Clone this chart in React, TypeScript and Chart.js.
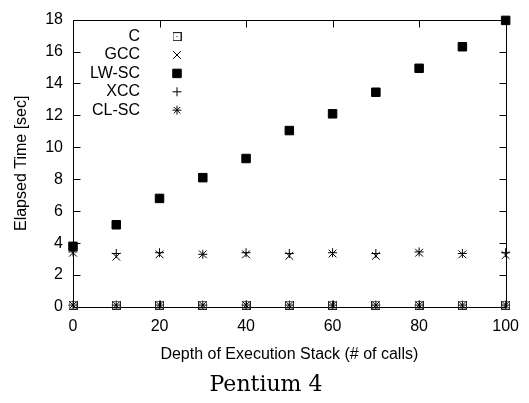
import { useEffect, useRef } from 'react';
import { Chart, registerables } from 'chart.js';
import { drawPoint } from 'chart.js/helpers';

Chart.register(...registerables);

const depths = [0, 10, 20, 30, 40, 50, 60, 70, 80, 90, 100];
const seriesNames = ['C', 'GCC', 'LW-SC', 'XCC', 'CL-SC'];
const cTimes = [0.12, 0.12, 0.12, 0.12, 0.12, 0.12, 0.12, 0.12, 0.12, 0.12, 0.12];
const gccTimes = [3.4, 3.15, 3.3, 3.3, 3.3, 3.2, 3.35, 3.2, 3.4, 3.3, 3.25];
const lwscTimes = [3.8, 5.15, 6.8, 8.1, 9.3, 11.05, 12.1, 13.45, 14.95, 16.3, 17.95];
const xccTimes = [3.45, 3.35, 3.4, 3.3, 3.4, 3.35, 3.4, 3.35, 3.45, 3.35, 3.4];
const clscTimes = [0.12, 0.12, 0.12, 0.12, 0.12, 0.12, 0.12, 0.12, 0.12, 0.12, 0.12];
const xTickValues = [0, 20, 40, 60, 80, 100];
const yTickValues = [0, 2, 4, 6, 8, 10, 12, 14, 16, 18];
const xTitle = 'Depth of Execution Stack (# of calls)';
const yTitle = 'Elapsed Time [sec]';
const caption = 'Pentium 4';

const SANS = '"Liberation Sans", Arial, sans-serif';

function boxDot(): HTMLCanvasElement {
  const c = document.createElement('canvas');
  c.width = 9;
  c.height = 9;
  const g = c.getContext('2d')!;
  g.strokeStyle = '#222';
  g.lineWidth = 1;
  g.strokeRect(0.5, 0.5, 8, 8);
  g.fillStyle = '#000';
  g.fillRect(4, 4, 1, 1);
  return c;
}

const framePlugin = {
  id: 'frame',
  beforeDatasetsDraw(chart: any) {
    const { ctx, chartArea, scales } = chart;
    const { left, right, top, bottom } = chartArea;
    const L = Math.round(left) + 0.5;
    const R = Math.round(right) + 0.5;
    const T = Math.round(top) + 0.5;
    const B = Math.round(bottom) + 0.5;
    ctx.save();
    ctx.strokeStyle = '#000';
    ctx.lineWidth = 1;
    ctx.beginPath();
    ctx.rect(L, T, R - L, B - T);
    const tl = 7;
    xTickValues.forEach((v) => {
      const px = Math.round(scales.x.getPixelForValue(v)) + 0.5;
      ctx.moveTo(px, B);
      ctx.lineTo(px, B - tl);
      ctx.moveTo(px, T);
      ctx.lineTo(px, T + tl);
    });
    yTickValues.forEach((v) => {
      const py = Math.round(scales.y.getPixelForValue(v)) + 0.5;
      ctx.moveTo(L, py);
      ctx.lineTo(L + tl, py);
      ctx.moveTo(R, py);
      ctx.lineTo(R - tl, py);
    });
    ctx.stroke();
    ctx.restore();
  },
};

const keyPlugin = {
  id: 'key',
  afterDatasetsDraw(chart: any) {
    const { ctx, chartArea } = chart;
    ctx.save();
    ctx.font = `16px ${SANS}`;
    ctx.textAlign = 'right';
    ctx.textBaseline = 'middle';
    chart.data.datasets.forEach((ds: any, i: number) => {
      const y = chartArea.top + 17 + i * 18.4;
      ctx.fillStyle = '#000';
      ctx.fillText(ds.label, chartArea.left + 67, y);
      ctx.strokeStyle = '#000';
      ctx.lineWidth = 1;
      drawPoint(ctx, { pointStyle: ds.pointStyle, radius: ds.pointRadius, rotation: 0, borderWidth: 1 } as any, chartArea.left + 104, y);
    });
    ctx.restore();
  },
};

const captionPlugin = {
  id: 'caption',
  afterDraw(chart: any) {
    const { ctx } = chart;
    ctx.save();
    ctx.font = '22px "DejaVu Serif", "Liberation Serif", serif';
    ctx.fillStyle = '#000';
    ctx.textAlign = 'center';
    ctx.textBaseline = 'middle';
    ctx.fillText(caption, 266, 385);
    ctx.restore();
  },
};

export default function App() {
  const ref = useRef<HTMLCanvasElement>(null);
  useEffect(() => {
    if (!ref.current) return;
    const box = boxDot();
    const toPts = (arr: number[]) => depths.map((d, i) => ({ x: d, y: arr[i] }));
    const base = { showLine: false, borderColor: '#000', backgroundColor: '#000', borderWidth: 1, clip: false as any };
    const chart = new Chart(ref.current, {
      type: 'scatter',
      data: {
        datasets: [
          { ...base, label: seriesNames[0], data: toPts(cTimes), pointStyle: box as any, pointRadius: 4.5 },
          { ...base, label: seriesNames[1], data: toPts(gccTimes), pointStyle: 'crossRot', pointRadius: 5.5 },
          { ...base, label: seriesNames[2], data: toPts(lwscTimes), pointStyle: 'rect', pointRadius: 6 },
          { ...base, label: seriesNames[3], data: toPts(xccTimes), pointStyle: 'cross', pointRadius: 4.5 },
          { ...base, label: seriesNames[4], data: toPts(clscTimes), pointStyle: 'star', pointRadius: 4.5 },
        ],
      },
      options: {
        animation: false,
        responsive: false,
        maintainAspectRatio: false,
        devicePixelRatio: 1,
        layout: { padding: { left: 0, right: 22, top: 10, bottom: 0 } },
        plugins: {
          legend: { display: false },
          tooltip: { enabled: false },
          title: { display: false },
        },
        scales: {
          x: {
            type: 'linear',
            min: 0,
            max: 100,
            afterBuildTicks: (s: any) => { s.ticks = xTickValues.map((v) => ({ value: v })); },
            afterFit: (s: any) => { s.height = 96; },
            grid: { display: false, drawTicks: false },
            border: { display: false },
            ticks: { color: '#000', padding: 10, font: { family: SANS, size: 16 }, maxRotation: 0 },
            title: { display: true, text: xTitle, color: '#000', font: { family: SANS, size: 16 }, padding: { top: 0, bottom: 39 } },
          },
          y: {
            type: 'linear',
            min: 0,
            max: 18,
            afterBuildTicks: (s: any) => { s.ticks = yTickValues.map((v) => ({ value: v })); },
            afterFit: (s: any) => { s.width = 73; },
            grid: { display: false, drawTicks: false },
            border: { display: false },
            ticks: { color: '#000', padding: 10, font: { family: SANS, size: 16 } },
            title: { display: true, text: yTitle, color: '#000', font: { family: SANS, size: 16 }, padding: { top: 12, bottom: 0 } },
          },
        },
      },
      plugins: [framePlugin, keyPlugin, captionPlugin],
    });
    return () => chart.destroy();
  }, []);
  return (
    <div style={{ position: 'fixed', left: 0, top: 0, width: 529, height: 403, background: '#fff' }}>
      <canvas ref={ref} width={529} height={403} style={{ display: 'block', width: 529, height: 403 }} />
    </div>
  );
}
